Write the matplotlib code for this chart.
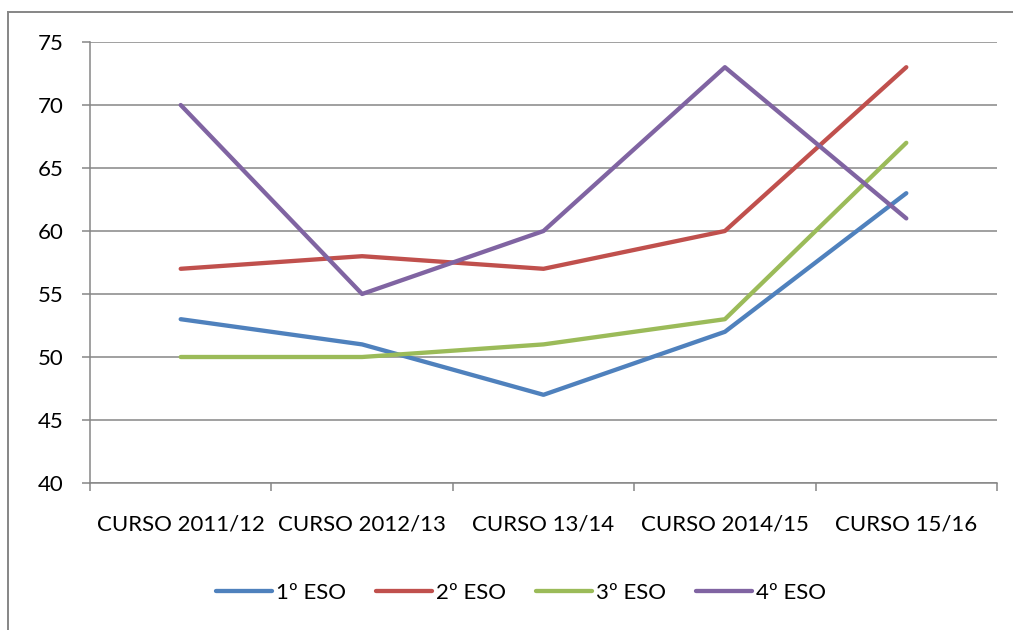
import matplotlib
matplotlib.use("Agg")
import matplotlib.pyplot as plt
from matplotlib.lines import Line2D

plt.rcParams['font.family'] = ['Lato', 'DejaVu Sans']

cursos = ['CURSO 2011/12', 'CURSO 2012/13', 'CURSO 13/14', 'CURSO 2014/15', 'CURSO 15/16']
eso1 = [53, 51, 47, 52, 63]
eso2 = [57, 58, 57, 60, 73]
eso3 = [50, 50, 51, 53, 67]
eso4 = [70, 55, 60, 73, 61]
series_names = ['1º ESO', '2º ESO', '3º ESO', '4º ESO']
colors = ['#4F81BD', '#C0504D', '#9BBB59', '#8064A2']

W, H = 1013, 630
fig = plt.figure(figsize=(W / 100, H / 100), dpi=100)
ax = fig.add_axes([90 / W, 1 - 483 / H, (997 - 90) / W, (483 - 42) / H])

grid_c = '#868686'
fs = 16
x = range(len(cursos))
for vals, name, c in zip([eso1, eso2, eso3, eso4], series_names, colors):
    ax.plot(x, vals, color=c, lw=3.1, label=name, solid_capstyle='round')

ax.set_xlim(-0.5, len(cursos) - 0.5)
ax.set_ylim(40, 75)
ax.set_yticks(range(40, 80, 5))
ax.yaxis.grid(True, color=grid_c, lw=1.1)
ax.set_axisbelow(True)

# category boundaries get the tick marks, labels sit in between
ax.set_xticks([i - 0.5 for i in range(len(cursos) + 1)])
ax.set_xticklabels([])
ax.set_xticks(list(x), minor=True)
ax.set_xticklabels(cursos, minor=True)
ax.tick_params(axis='x', which='major', length=6, color=grid_c, width=1.1)
ax.tick_params(axis='x', which='minor', length=0, pad=23, labelsize=fs)
ax.tick_params(axis='y', length=6, color=grid_c, width=1.1, pad=13, labelsize=fs)

for s in ['top', 'right']:
    ax.spines[s].set_visible(False)
for s in ['left', 'bottom']:
    ax.spines[s].set_color(grid_c)
    ax.spines[s].set_linewidth(1.1)

# chart border (cropped on right/bottom)
fig.add_artist(Line2D([8 / W, 8 / W], [1 - 12 / H, -0.1], color=grid_c, lw=1.4))
fig.add_artist(Line2D([8 / W, 1.1], [1 - 12 / H, 1 - 12 / H], color=grid_c, lw=1.4))

fig.legend(loc='center', bbox_to_anchor=(521 / W, 1 - 593 / H), ncol=4, frameon=False,
           fontsize=fs, handlelength=2.5, handletextpad=0.2, columnspacing=1.35)

fig.savefig('out.png', dpi=100)
